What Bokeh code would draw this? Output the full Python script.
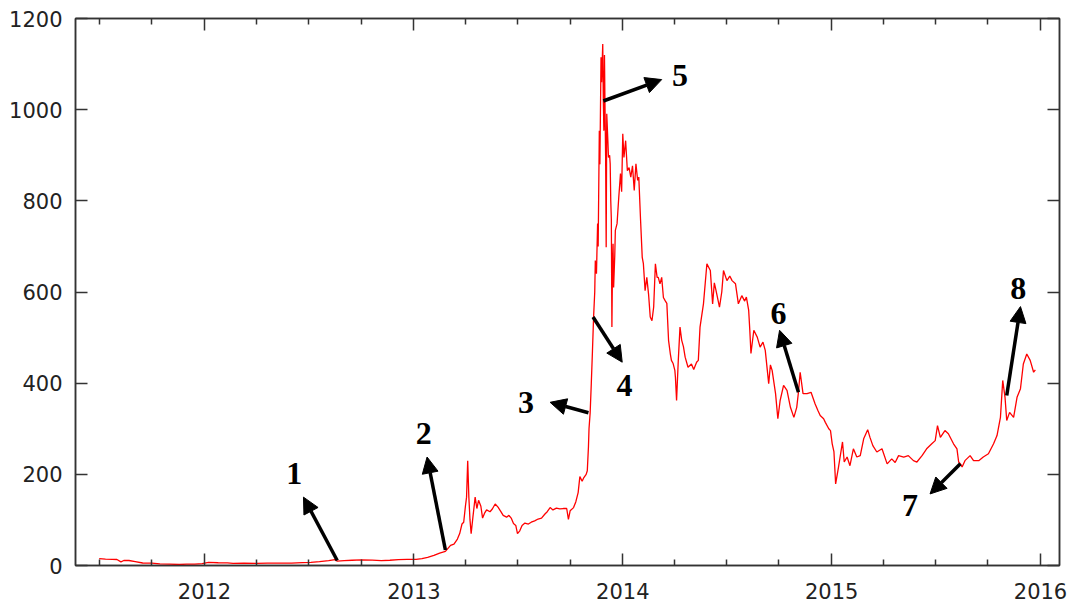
import pandas as pd
from bokeh.plotting import figure
from bokeh.models import (Range1d, FixedTicker, DatetimeTickFormatter, LinearAxis, DatetimeAxis,
                          Arrow, NormalHead, ColumnDataSource, CustomJSTickFormatter)
from bokeh.core.properties import value
from bokeh.embed import file_html
from bokeh.resources import INLINE

# ---------------- data ----------------
dates = [
    "2011-07-01", "2011-07-12", "2011-07-24", "2011-08-01", "2011-08-08", "2011-08-13", "2011-08-22",
    "2011-09-02", "2011-09-15", "2011-10-01", "2011-10-15", "2011-11-01", "2011-11-18", "2011-12-01",
    "2011-12-15", "2011-12-28", "2012-01-08", "2012-01-25", "2012-02-10", "2012-02-20", "2012-03-10",
    "2012-04-01", "2012-04-20", "2012-05-10", "2012-06-01", "2012-06-20", "2012-07-05", "2012-07-20",
    "2012-08-05", "2012-08-16", "2012-08-20", "2012-09-01", "2012-09-15", "2012-10-01", "2012-10-20",
    "2012-11-05", "2012-11-20", "2012-12-05", "2012-12-20", "2013-01-05", "2013-01-15", "2013-01-25",
    "2013-02-05", "2013-02-15", "2013-02-25", "2013-03-06", "2013-03-12", "2013-03-18", "2013-03-22",
    "2013-03-26", "2013-03-29", "2013-04-01", "2013-04-03", "2013-04-05", "2013-04-07", "2013-04-09",
    "2013-04-11", "2013-04-14", "2013-04-18", "2013-04-21", "2013-04-24", "2013-04-28", "2013-05-01",
    "2013-05-05", "2013-05-08", "2013-05-14", "2013-05-18", "2013-05-23", "2013-05-28", "2013-06-02",
    "2013-06-06", "2013-06-12", "2013-06-16", "2013-06-20", "2013-06-24", "2013-06-28", "2013-07-01",
    "2013-07-05", "2013-07-09", "2013-07-14", "2013-07-20", "2013-07-25", "2013-07-31", "2013-08-06",
    "2013-08-12", "2013-08-18", "2013-08-22", "2013-08-27", "2013-09-01", "2013-09-07", "2013-09-13",
    "2013-09-19", "2013-09-25", "2013-09-28", "2013-10-01", "2013-10-07", "2013-10-11", "2013-10-15",
    "2013-10-18", "2013-10-22", "2013-10-25", "2013-10-29", "2013-10-31", "2013-11-02", "2013-11-03",
    "2013-11-05", "2013-11-07", "2013-11-09", "2013-11-11", "2013-11-13", "2013-11-14", "2013-11-16",
    "2013-11-18", "2013-11-19", "2013-11-21", "2013-11-22", "2013-11-24", "2013-11-25", "2013-11-27",
    "2013-11-28", "2013-11-29", "2013-11-30", "2013-12-01", "2013-12-02", "2013-12-03", "2013-12-04",
    "2013-12-06", "2013-12-07", "2013-12-09", "2013-12-10", "2013-12-11", "2013-12-12", "2013-12-13",
    "2013-12-14", "2013-12-15", "2013-12-16", "2013-12-18", "2013-12-19", "2013-12-22", "2013-12-25",
    "2013-12-28", "2013-12-30", "2014-01-01", "2014-01-03", "2014-01-06", "2014-01-09", "2014-01-12",
    "2014-01-15", "2014-01-18", "2014-01-21", "2014-01-24", "2014-01-27", "2014-01-29", "2014-02-01",
    "2014-02-04", "2014-02-06", "2014-02-09", "2014-02-12", "2014-02-15", "2014-02-18", "2014-02-21",
    "2014-02-24", "2014-02-27", "2014-03-02", "2014-03-04", "2014-03-07", "2014-03-10", "2014-03-13",
    "2014-03-16", "2014-03-19", "2014-03-22", "2014-03-25", "2014-03-27", "2014-03-30", "2014-04-02",
    "2014-04-03", "2014-04-05", "2014-04-08", "2014-04-11", "2014-04-14", "2014-04-17", "2014-04-20",
    "2014-04-25", "2014-05-01", "2014-05-05", "2014-05-10", "2014-05-13", "2014-05-16", "2014-05-22",
    "2014-05-28", "2014-06-03", "2014-06-07", "2014-06-10", "2014-06-13", "2014-06-19", "2014-06-23",
    "2014-06-26", "2014-07-02", "2014-07-07", "2014-07-11", "2014-07-17", "2014-07-22", "2014-07-28",
    "2014-08-02", "2014-08-05", "2014-08-09", "2014-08-11", "2014-08-13", "2014-08-18", "2014-08-24",
    "2014-08-29", "2014-09-03", "2014-09-07", "2014-09-13", "2014-09-16", "2014-09-19", "2014-09-25",
    "2014-09-29", "2014-10-03", "2014-10-09", "2014-10-15", "2014-10-21", "2014-10-27", "2014-11-01",
    "2014-11-04", "2014-11-07", "2014-11-12", "2014-11-19", "2014-11-26", "2014-12-03", "2014-12-08",
    "2014-12-12", "2014-12-18", "2014-12-21", "2014-12-27", "2014-12-30", "2015-01-02", "2015-01-05",
    "2015-01-08", "2015-01-13", "2015-01-20", "2015-01-23", "2015-01-28", "2015-02-02", "2015-02-08",
    "2015-02-14", "2015-02-20", "2015-02-26", "2015-03-05", "2015-03-09", "2015-03-14", "2015-03-21",
    "2015-03-30", "2015-04-08", "2015-04-16", "2015-04-22", "2015-04-28", "2015-05-07", "2015-05-15",
    "2015-05-24", "2015-05-30", "2015-06-08", "2015-06-16", "2015-06-25", "2015-07-01", "2015-07-05",
    "2015-07-10", "2015-07-18", "2015-07-24", "2015-08-02", "2015-08-08", "2015-08-11", "2015-08-14",
    "2015-08-17", "2015-08-22", "2015-08-31", "2015-09-06", "2015-09-15", "2015-09-23", "2015-10-02",
    "2015-10-11", "2015-10-17", "2015-10-23", "2015-10-27", "2015-10-31", "2015-11-03", "2015-11-08",
    "2015-11-15", "2015-11-21", "2015-11-27", "2015-12-02", "2015-12-08", "2015-12-14", "2015-12-20",
    "2015-12-23",
]
prices = [
    15, 14, 13.6, 13.2, 8, 11, 11,
    8.5, 5.5, 5, 3.5, 3.2, 2.2, 3,
    3.2, 4.3, 7, 6, 5.8, 4.5, 4.9,
    4.8, 5.1, 5.0, 5.2, 6.3, 6.8, 8.5,
    10.8, 13, 9.5, 10.5, 11.5, 12.4, 11.7,
    10.8, 11.5, 13, 13.3, 13.6, 15, 18,
    22, 27, 31, 44, 47, 58, 70,
    91, 95, 130, 150, 230, 150, 100,
    70, 105, 150, 125, 143, 130, 104,
    116, 122, 118, 124, 135, 128, 118,
    110, 106, 110, 104, 92, 88, 70,
    76, 88, 93, 91, 95, 98, 102,
    104, 113, 118, 127, 122, 126, 124,
    125, 125, 101, 120, 127, 140, 160,
    195, 185, 193, 200, 208, 260, 300,
    335, 400, 470, 545, 600, 669, 640,
    750, 700, 954, 880, 1115, 1060, 1144,
    1020, 954, 1120, 1000, 900, 698, 991,
    930, 895, 900, 881, 800, 760, 523,
    650, 706, 610, 680, 735, 750, 808,
    860, 820, 947, 895, 932, 866, 873,
    852, 877, 823, 881, 845, 852, 760,
    676, 662, 603, 632, 596, 545, 537,
    567, 662, 632, 632, 618, 632, 588,
    581, 575, 494, 465, 450, 443, 428,
    413, 362, 450, 523, 494, 480, 457,
    435, 442, 430, 446, 450, 523, 574,
    662, 647, 574, 620, 603, 567, 600,
    647, 625, 635, 625, 618, 574, 592,
    580, 589, 560, 516, 465, 516, 501,
    479, 490, 472, 399, 440, 428, 377,
    322, 362, 395, 384, 347, 325, 347,
    380, 424, 377, 377, 380, 355, 340,
    329, 322, 314, 300, 296, 267, 250,
    179, 216, 271, 227, 238, 219, 256,
    238, 241, 278, 298, 281, 263, 249,
    256, 223, 234, 226, 241, 238, 241,
    230, 227, 241, 256, 267, 274, 307,
    281, 296, 289, 267, 256, 227, 223,
    216, 230, 241, 230, 230, 238, 245,
    267, 285, 325, 406, 369, 318, 336,
    325, 369, 388, 442, 464, 450, 424,
    429,
]

# axis ticks / limits
year_ticks = ["2012-01-01", "2013-01-01", "2014-01-01", "2015-01-01", "2016-01-01"]
quarter_ticks = [
    "2011-07-01", "2011-10-01", "2012-04-01", "2012-07-01", "2012-10-01",
    "2013-04-01", "2013-07-01", "2013-10-01", "2014-04-01", "2014-07-01", "2014-10-01",
    "2015-04-01", "2015-07-01", "2015-10-01",
]
y_ticks = [0, 200, 400, 600, 800, 1000, 1200]
x_limits = ["2011-05-20 14:00", "2016-02-03 05:00"]
y_limits = [0, 1200]

# numbered annotations: label position, arrow tail (on the curve) and arrow tip
ann_labels = ["1", "2", "3", "4", "5", "6", "7", "8"]
ann_label_dates = ["2012-06-06", "2013-01-18", "2013-07-16", "2014-01-04",
                   "2014-04-11", "2014-09-30", "2015-05-18", "2015-11-23"]
ann_label_values = [202, 289, 358, 395, 1075, 552, 132, 607]
ann_tail_dates = ["2012-08-20", "2013-02-25", "2013-11-02", "2013-11-10",
                  "2013-11-28", "2014-11-04", "2015-08-14", "2015-11-03"]
ann_tail_values = [11, 34, 335, 545, 1019, 380, 223, 373]
ann_tip_dates = ["2012-06-22", "2013-01-24", "2013-08-27", "2013-12-31",
                 "2014-03-10", "2014-10-02", "2015-06-22", "2015-11-27"]
ann_tip_values = [150, 238, 358, 446, 1066, 516, 157, 568]


def to_ms(seq):
    return [pd.Timestamp(s).timestamp() * 1000.0 for s in seq]


# ---------------- figure ----------------
p = figure(width=1069, height=607, x_axis_type="datetime",
           x_range=Range1d(*to_ms(x_limits)), y_range=Range1d(*y_limits),
           output_backend="svg", toolbar_location=None,
           min_border_left=75, min_border_right=10, min_border_top=18, min_border_bottom=42)
p.background_fill_color = "white"
p.border_fill_color = "white"
p.outline_line_color = "#333333"
p.outline_line_width = 1.5
p.xgrid.visible = False
p.ygrid.visible = False

xticker = FixedTicker(ticks=to_ms(year_ticks), minor_ticks=to_ms(quarter_ticks))
yticker = FixedTicker(ticks=y_ticks, minor_ticks=[])
fmt = DatetimeTickFormatter(years="%Y", months="%Y", days="%Y", hours="%Y",
                            hourmin="%Y", minutes="%Y", minsec="%Y", seconds="%Y",
                            milliseconds="%Y", microseconds="%Y")
blank = CustomJSTickFormatter(code="return ''")


def style_axis(ax, show_labels):
    ax.axis_line_color = "#333333"
    ax.axis_line_width = 1.5
    ax.major_tick_line_color = "#333333"
    ax.major_tick_line_width = 1.5
    ax.minor_tick_line_color = "#333333"
    ax.minor_tick_line_width = 1.5
    ax.major_tick_in = 12
    ax.major_tick_out = 0
    ax.minor_tick_in = 6
    ax.minor_tick_out = 0
    ax.major_label_text_font = "DejaVu Sans"
    ax.major_label_text_color = "#222222"
    if show_labels:
        ax.major_label_text_font_size = "21px"
    else:
        ax.major_label_text_font_size = "0px"
        ax.major_label_standoff = 0


xa = p.xaxis[0]
xa.ticker = xticker
xa.formatter = fmt
style_axis(xa, True)
xa.major_label_standoff = 17

ya = p.yaxis[0]
ya.ticker = yticker
style_axis(ya, True)
ya.major_label_standoff = 13

top = DatetimeAxis(ticker=xticker, formatter=blank)
style_axis(top, False)
p.add_layout(top, "above")

right = LinearAxis(ticker=yticker, formatter=blank)
style_axis(right, False)
right.minor_tick_in = 0
p.add_layout(right, "right")

# price curve
src = ColumnDataSource(data=dict(date=pd.to_datetime(dates), price=prices))
p.line(x="date", y="price", source=src, line_color="#ff0000", line_width=1.3)

# arrows
arr_src = ColumnDataSource(data=dict(
    x0=to_ms(ann_tail_dates), y0=ann_tail_values,
    x1=to_ms(ann_tip_dates), y1=ann_tip_values))
p.add_layout(Arrow(end=NormalHead(size=16, fill_color="black", line_color="black", line_width=1),
                   x_start="x0", y_start="y0", x_end="x1", y_end="y1", source=arr_src,
                   line_color="black", line_width=3.5))

# numbers
lab_src = ColumnDataSource(data=dict(x=to_ms(ann_label_dates), y=ann_label_values, t=ann_labels))
p.text(x="x", y="y", text="t", source=lab_src, text_font=value("Liberation Serif"),
       text_font_style="bold", text_font_size="32px", text_align="center",
       text_baseline="middle", text_color="black")

open("out.html", "w").write(file_html(p, INLINE))
